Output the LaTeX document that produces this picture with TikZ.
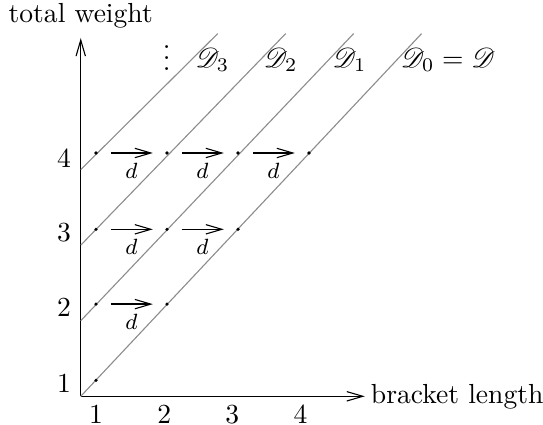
\documentclass[tikz,border=0pt]{standalone}
\usepackage{amsmath,amssymb,mathrsfs}
\usepackage{tikz}
\usetikzlibrary{arrows.meta,positioning}
\definecolor{Ink}{HTML}{000000}
\definecolor{Rule}{HTML}{8C8C8C}
\tikzset{
  >={Straight Barb[length=5.8pt,width=3.4pt,line width=.4pt]},
  pt/.style={circle,fill=Ink,inner sep=0pt,minimum size=1.3pt},
  axis/.style={->,line width=.5pt,draw=Ink},
  diag/.style={draw=Rule,line width=.4pt},
  dmap/.style={->,line width=.45pt,draw=Ink,shorten <=4.5pt,shorten >=4.3pt},
  dlab/.style={font=\footnotesize,below},
  dname/.style={anchor=base west,inner sep=0pt},
  xtick/.style={below,inner sep=0pt,yshift=-3pt}
}
\begin{document}
\begin{tikzpicture}[x=0.905cm,y=0.963cm]
    \useasboundingbox (-1.137,-0.371) rectangle (6.51,5.245);
    \coordinate (o) at (0,0); \coordinate (xe) at (4.0,0); \coordinate (ye) at (0,4.74);
    \draw[axis] (o)--(xe) node[right,inner sep=2pt] (xl) {bracket length};
    \draw[axis] (o)--(ye) node[above] (yl) {total weight};
    % the lines D_k
    \coordinate (d1) at (0,1); \coordinate (d2) at (0,2); \coordinate (d3) at (0,3);
    \coordinate (t0) at (4.8,4.8); \coordinate (t1) at (3.843,4.8);
    \coordinate (t2) at (2.886,4.8); \coordinate (t3) at (1.929,4.8);
    \draw[diag] (o)--(t0); \draw[diag] (d1)--(t1);
    \draw[diag] (d2)--(t2); \draw[diag] (d3)--(t3);
    \node[dname] (n0) at (4.50,4.35) {$\mathscr{D}_0=\mathscr{D}$};
    \node[dname] (n1) at (3.54,4.35) {$\mathscr{D}_1$};
    \node[dname] (n2) at (2.57,4.35) {$\mathscr{D}_2$};
    \node[dname] (n3) at (1.61,4.35) {$\mathscr{D}_3$};
    \node[anchor=base,inner sep=0pt] (vd) at (1.211,4.307) {$\vdots$};
    % ticks
    \node[xtick] (l1) at (0.215,0) {1}; \node[xtick] (l2) at (1.175,0) {2};
    \node[xtick] (l3) at (2.135,0) {3}; \node[xtick] (l4) at (3.095,0) {4};
    \node[left] (w1) at (0,0.172) {1}; \node[left] (w2) at (0,1.18) {2};
    \node[left] (w3) at (0,2.16) {3}; \node[left] (w4) at (0,3.15) {4};
    % points (length, weight)
    \node[pt] (p11) at (0.215,0.21) {};
    \node[pt] (p12) at (0.215,1.22) {}; \node[pt] (p22) at (1.215,1.22) {};
    \node[pt] (p13) at (0.215,2.21) {}; \node[pt] (p23) at (1.215,2.21) {};
    \node[pt] (p33) at (2.215,2.21) {};
    \node[pt] (p14) at (0.215,3.22) {}; \node[pt] (p24) at (1.215,3.22) {};
    \node[pt] (p34) at (2.215,3.22) {}; \node[pt] (p44) at (3.215,3.22) {};
    \draw[dmap] (p12)--node[dlab] {$d$}(p22);
    \draw[dmap] (p13)--node[dlab] {$d$}(p23);
    \draw[dmap] (p23)--node[dlab] {$d$}(p33);
    \draw[dmap] (p14)--node[dlab] {$d$}(p24);
    \draw[dmap] (p24)--node[dlab] {$d$}(p34);
    \draw[dmap] (p34)--node[dlab] {$d$}(p44);
  \end{tikzpicture}
\end{document}
